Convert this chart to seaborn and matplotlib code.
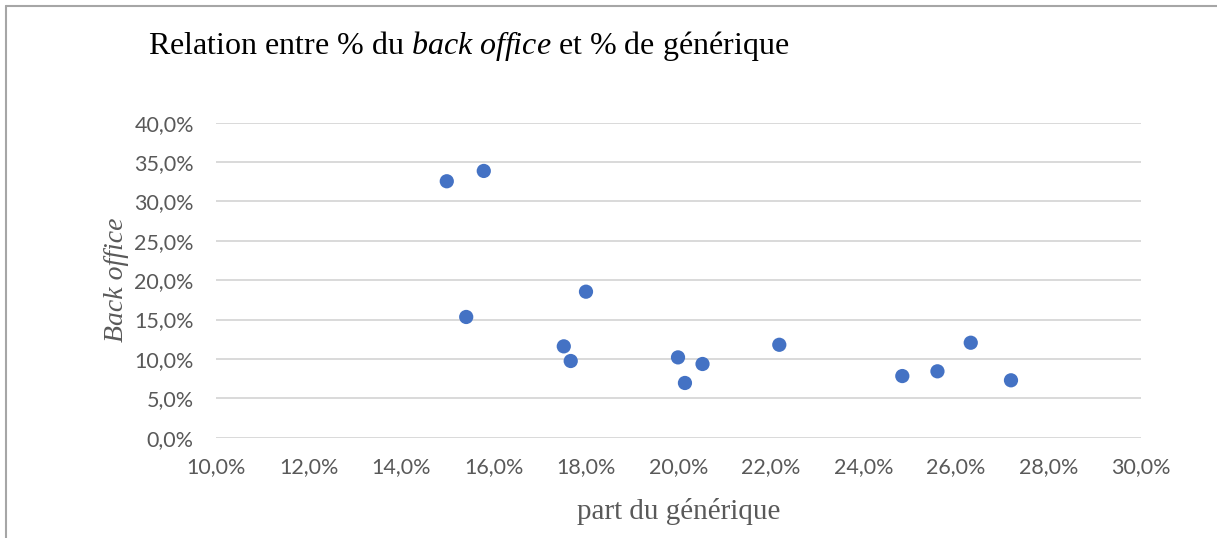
import numpy as np
import pandas as pd
import matplotlib
matplotlib.use("Agg")
import matplotlib.pyplot as plt
from matplotlib.lines import Line2D
from matplotlib.ticker import FuncFormatter, MultipleLocator
import seaborn as sns

# part du générique (%) et part du back office (%)
generique = [14.99, 15.79, 15.41, 18.00, 17.52, 17.67, 19.99, 20.14, 20.52,
             22.18, 24.84, 25.60, 26.32, 27.19]
back_office = [32.56, 33.87, 15.33, 18.54, 11.60, 9.74, 10.20, 6.95, 9.36,
               11.80, 7.83, 8.43, 12.06, 7.29]

df = pd.DataFrame({'generique': generique, 'back_office': back_office})

sns.set_style('white')
plt.rcParams['mathtext.fontset'] = 'custom'
plt.rcParams['mathtext.rm'] = 'Liberation Serif'
plt.rcParams['mathtext.it'] = 'Liberation Serif:italic'

fig = plt.figure(figsize=(12.17, 5.38), dpi=100)
ax = fig.add_axes([0.1775, 0.1864, 0.76, 0.5856])

sns.scatterplot(data=df, x='generique', y='back_office', ax=ax,
                color='#4472C4', s=105, edgecolor='none', zorder=3)

ax.set_xlim(10, 30)
ax.set_ylim(0, 40)
ax.xaxis.set_major_locator(MultipleLocator(2))
ax.yaxis.set_major_locator(MultipleLocator(5))
fmt = FuncFormatter(lambda v, p: f"{v:.1f}%".replace('.', ','))
ax.xaxis.set_major_formatter(fmt)
ax.yaxis.set_major_formatter(fmt)

ax.grid(axis='y', color='#d9d9d9', linewidth=1.4)
ax.grid(axis='x', visible=False)
ax.set_axisbelow(True)
for sp in ax.spines.values():
    sp.set_visible(False)

ax.tick_params(axis='both', length=0, labelsize=15.5, labelcolor='#595959')
ax.tick_params(axis='y', pad=16)
ax.tick_params(axis='x', pad=14)
for lab in ax.get_xticklabels() + ax.get_yticklabels():
    lab.set_family('Lato')

ax.set_xlabel('part du générique', family='Liberation Serif', fontsize=21,
              color='#595959', labelpad=15)
ax.set_ylabel('Back office', family='Liberation Serif', style='italic',
              fontsize=20, color='#595959', labelpad=4)

fig.text(148 / 1217, 1 - 46 / 538,
         r'Relation entre % du $\mathit{back\ office}$ et % de générique',
         family='Liberation Serif', fontsize=23, color='black',
         ha='left', va='center')

# cadre du graphique
fig.add_artist(Line2D([6 / 1217, 6 / 1217], [0, 1 - 6 / 538],
                      transform=fig.transFigure, color='#a6a6a6', lw=1.5))
fig.add_artist(Line2D([6 / 1217, 1], [1 - 6 / 538, 1 - 6 / 538],
                      transform=fig.transFigure, color='#a6a6a6', lw=1.5))

fig.savefig('out.png', dpi=100)
